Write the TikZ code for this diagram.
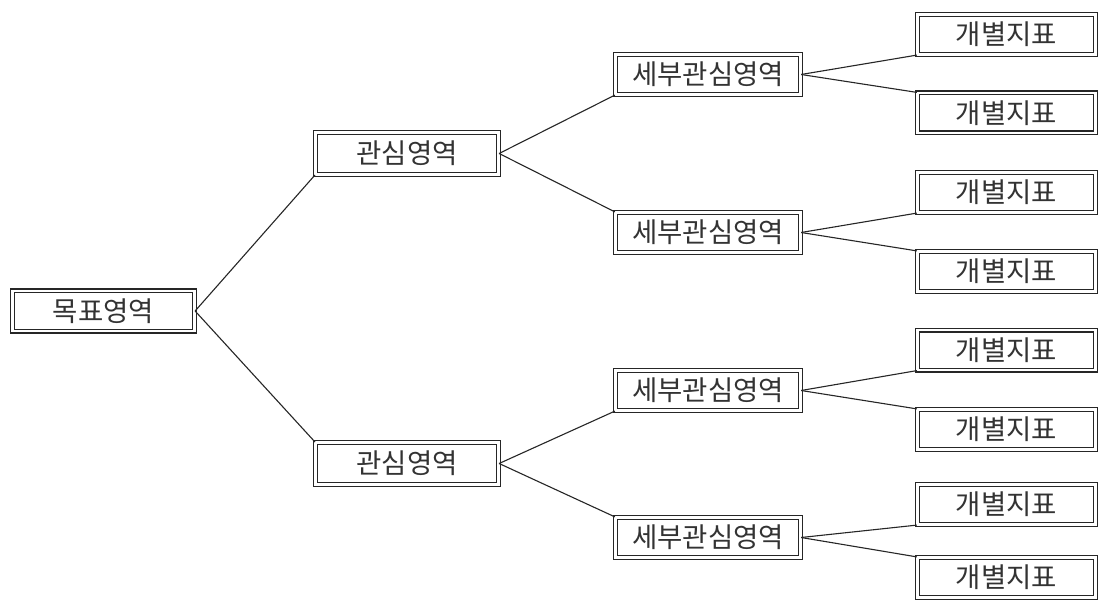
\documentclass[tikz,border=0pt]{standalone}
\usepackage{fontspec}
\newfontfamily\kr{Noto Sans CJK KR}
\begin{document}
\begin{tikzpicture}[x=1pt,y=-1pt,
  box/.style={draw=black!85, line width=1.2pt, double=white, double distance=2.6pt,
    rectangle, inner sep=0pt, minimum height=40pt, text=black!80,
    font=\kr\fontsize{27.5}{30}\selectfont},
  rootbox/.style={box, minimum width=182pt},
  areabox/.style={box, minimum width=183pt, minimum height=42pt},
  subbox/.style={box, minimum width=185pt},
  leafbox/.style={box, minimum width=178pt},
  link/.style={draw=black!85, line width=1.1pt}]
\useasboundingbox[fill=white] (0,0) rectangle (1102,601);

% level 0
\node[rootbox] (root) at (103.5,311) {목표영역};

% level 1
\node[areabox] (a1) at (407,153.5) {관심영역};
\node[areabox] (a2) at (407,463.5) {관심영역};

% level 2
\node[subbox] (s1) at (708,74.5) {세부관심영역};
\node[subbox] (s2) at (708,232.5) {세부관심영역};
\node[subbox] (s3) at (708,390.5) {세부관심영역};
\node[subbox] (s4) at (708,537.5) {세부관심영역};

% level 3
\node[leafbox] (l1) at (1006.5,34.5) {개별지표};
\node[leafbox] (l2) at (1006.5,113) {개별지표};
\node[leafbox] (l3) at (1006.5,192.5) {개별지표};
\node[leafbox] (l4) at (1006.5,271.5) {개별지표};
\node[leafbox] (l5) at (1006.5,350) {개별지표};
\node[leafbox] (l6) at (1006.5,429.5) {개별지표};
\node[leafbox] (l7) at (1006.5,504.5) {개별지표};
\node[leafbox] (l8) at (1006.5,577.5) {개별지표};

% connectors: parent's right side to the near corner of each child
\draw[link] (root.east) -- (a1.south west);
\draw[link] (root.east) -- (a2.north west);
\draw[link] (a1.east) -- (s1.south west);
\draw[link] (a1.east) -- (s2.north west);
\draw[link] (a2.east) -- (s3.south west);
\draw[link] (a2.east) -- (s4.north west);
\draw[link] (s1.east) -- (l1.south west);
\draw[link] (s1.east) -- (l2.north west);
\draw[link] (s2.east) -- (l3.south west);
\draw[link] (s2.east) -- (l4.north west);
\draw[link] (s3.east) -- (l5.south west);
\draw[link] (s3.east) -- (l6.north west);
\draw[link] (s4.east) -- (l7.south west);
\draw[link] (s4.east) -- (l8.north west);
\end{tikzpicture}
\end{document}
